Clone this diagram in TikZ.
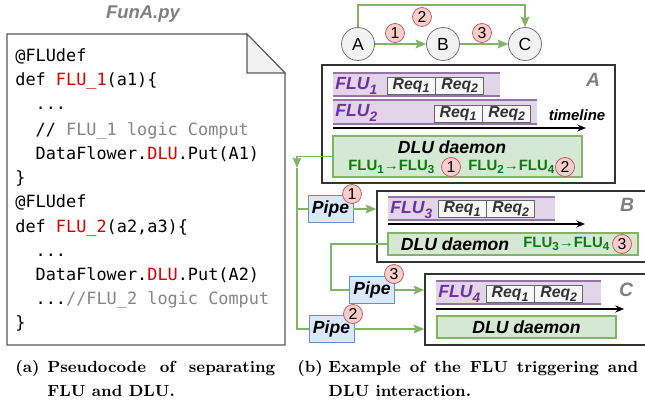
\documentclass[tikz,border=0pt]{standalone}
\usepackage{fontspec}
\newfontfamily\arialfont{Liberation Sans}
\newfontfamily\codefont{DejaVu Sans Mono}
\usetikzlibrary{shapes,arrows.meta,positioning,calc}

\definecolor{edgegreen}{HTML}{82B366}
\definecolor{dlufill}{HTML}{D5E8D4}
\definecolor{flufill}{HTML}{E1D5E7}
\definecolor{fluline}{HTML}{9673A6}
\definecolor{flupurple}{HTML}{7030A0}
\definecolor{pipefill}{HTML}{DAE8FC}
\definecolor{pipeline}{HTML}{6C8EBF}
\definecolor{numfill}{HTML}{F8CECC}
\definecolor{numline}{HTML}{B85450}
\definecolor{codered}{HTML}{D00000}
\definecolor{codegray}{HTML}{858585}
\definecolor{flowgreen}{HTML}{0E7A0E}
\definecolor{docgray}{HTML}{595959}
\definecolor{foldgray}{HTML}{F2F2F2}

\newcommand{\dn}[1]{\raisebox{-0.45ex}{\scalebox{0.78}{#1}}}
\newcommand{\hlred}[1]{{\color{codered}#1}}
\newcommand{\cmt}[1]{{\color{codegray}#1}}

\begin{document}
\begin{tikzpicture}[
    x=0.02cm, y=-0.02cm,
    codeline/.style={anchor=base west, inner sep=0, font=\codefont\fontsize{9.6}{11}\selectfont},
    captext/.style={anchor=base west, inner sep=0, font=\bfseries\fontsize{9.2}{11}\selectfont},
    station/.style={circle, draw=black!60, fill=black!5, minimum size=0.66cm, inner sep=0, font=\arialfont\fontsize{10}{11}\selectfont},
    num/.style={circle, draw=numline, fill=numfill, minimum size=0.38cm, inner sep=0, font=\arialfont\fontsize{9}{10}\selectfont},
    unitbox/.style={rectangle, draw=black!80, line width=0.9pt, fill=white},
    boxlabel/.style={text=black!50, font=\arialfont\bfseries\itshape\fontsize{11}{12}\selectfont},
    flubar/.style={rectangle, fill=flufill, minimum height=0.46cm, inner sep=0},
    fluedge/.style={draw=fluline, line width=1.3pt},
    flutext/.style={anchor=west, inner sep=0, text=flupurple, font=\arialfont\bfseries\itshape\fontsize{10}{11}\selectfont},
    req/.style={rectangle, draw=black!60, fill=black!3, minimum width=0.96cm, minimum height=0.34cm, inner sep=0, text=black!80, font=\arialfont\bfseries\itshape\fontsize{9}{10}\selectfont},
    tltext/.style={font=\arialfont\bfseries\itshape\fontsize{8.5}{10}\selectfont},
    tline/.style={-{Stealth[length=5pt,width=4pt]}, line width=0.7pt},
    dlubox/.style={rectangle, draw=edgegreen, fill=dlufill, inner sep=0, line width=0.7pt},
    dlutext/.style={inner sep=0, font=\arialfont\bfseries\itshape\fontsize{10}{11}\selectfont},
    flowtext/.style={anchor=west, inner sep=0, text=flowgreen, font=\arialfont\bfseries\fontsize{8.5}{10}\selectfont},
    pipe/.style={rectangle, draw=pipeline, fill=pipefill, minimum width=0.9cm, minimum height=0.55cm, inner sep=0, font=\arialfont\bfseries\itshape\fontsize{10}{11}\selectfont},
    wire/.style={draw=edgegreen, line width=1pt},
    link/.style={wire, -{Stealth[length=6pt,width=5pt,inset=1pt]}}
]
\clip (0,0) rectangle (645,402);

% (a) pseudocode file
\node[text=black!50, font=\arialfont\bfseries\itshape\fontsize{10.5}{12}\selectfont] (fname) at (143,14) {FunA.py};
\draw[docgray, fill=white, line width=0.6pt] (7,34) -- (247,34) -- (285,73) -- (285,345) -- (7,345) -- cycle;
\draw[docgray, fill=foldgray, line width=0.6pt] (247,34) -- (247,73) -- (285,73) -- cycle;

\node[codeline] (code1) at (15,62) {@FLUdef};
\node[codeline] (code2) at (15,86) {def \hlred{FLU\_1}(a1)\{};
\node[codeline] (code3) at (15,110) {\hphantom{xx}...};
\node[codeline] (code4) at (15,135) {\hphantom{xx}// \cmt{FLU\_1 logic Comput}};
\node[codeline] (code5) at (15,159) {\hphantom{xx}DataFlower.\hlred{DLU}.Put(A1)};
\node[codeline] (code6) at (15,183) {\}};
\node[codeline] (code7) at (15,207) {@FLUdef};
\node[codeline] (code8) at (15,232) {def \hlred{FLU\_2}(a2,a3)\{};
\node[codeline] (code9) at (15,256) {\hphantom{xx}...};
\node[codeline] (code10) at (15,280) {\hphantom{xx}DataFlower.\hlred{DLU}.Put(A2)};
\node[codeline] (code11) at (15,304) {\hphantom{xx}...\cmt{//FLU\_2 logic Comput}};
\node[codeline] (code12) at (15,328) {\}};

\node[captext] (capa) at (15,372) {(a)};
\node[captext] (capa1) at (47,372) {\makebox[4.56cm][s]{Pseudocode of separating}};
\node[captext] (capa2) at (47,396) {FLU and DLU.};

% (b) top graph
\node[station] (A) at (358,44) {A};
\node[station] (B) at (443,44) {B};
\node[station] (C) at (525,44) {C};
\coordinate (over) at (440,5);
\draw[link] (A) -- (B);
\draw[link] (B) -- (C);
\draw[link] (A.north) |- (over) -| (C.north);
\node[num] (t1) at (395,33) {1};
\node[num] (t2) at (422,17) {2};
\node[num] (t3) at (482,33) {3};

% unit A
\node[unitbox, minimum width=5.86cm, minimum height=2.36cm] (boxA) at (468.5,124) {};
\node[boxlabel] (labA) at (593,80) {A};
\node[flubar, minimum width=3.34cm] (flu1) at (416.5,84.5) {};
\node[flubar, minimum width=4.08cm] (flu2) at (435,112) {};
\draw[fluedge] (flu1.north west) -- (flu1.north east) (flu1.south west) -- (flu1.south east);
\draw[fluedge] (flu2.north west) -- (flu2.north east) (flu2.south west) -- (flu2.south east);
\node[flutext] (flu1t) at (335,86) {FLU\dn{1}};
\node[flutext] (flu2t) at (335,113) {FLU\dn{2}};
\node[req] (r11) at (411,85.5) {Req\dn{1}};
\node[req, right=0pt of r11] (r12) {Req\dn{2}};
\node[req] (r21) at (458,113.5) {Req\dn{1}};
\node[req, right=0pt of r21] (r22) {Req\dn{2}};
\node[tltext] (tlt) at (577,115) {timeline};
\coordinate (tlA) at (333,128);
\coordinate (tlAend) at (586,128);
\draw[tline] (tlA) -- (tlAend);
\node[dlubox, minimum width=4.98cm, minimum height=0.82cm] (dluA) at (457.5,156.5) {};
\node[dlutext] (dluAt) at (452,147) {DLU daemon};
\node[flowtext] (fA1) at (348,167) {FLU\dn{1}→FLU\dn{3}};
\node[num] (a1) at (451,167) {1};
\node[flowtext] (fA2) at (468,167) {FLU\dn{2}→FLU\dn{4}};
\node[num] (a2) at (565,167) {2};

% unit B
\node[unitbox, minimum width=5.66cm, minimum height=1.42cm] (boxB) at (518.5,226.5) {};
\node[boxlabel] (labB) at (627,205) {B};
\node[flubar, minimum width=3.34cm] (flu3) at (471.5,208.5) {};
\draw[fluedge] (flu3.north west) -- (flu3.north east) (flu3.south west) -- (flu3.south east);
\node[flutext] (flu3t) at (390,210) {FLU\dn{3}};
\node[req] (r31) at (462,209) {Req\dn{1}};
\node[req, right=0pt of r31] (r32) {Req\dn{2}};
\coordinate (tlB) at (388,224);
\coordinate (tlBend) at (585,224);
\draw[tline] (tlB) -- (tlBend);
\node[dlubox, minimum width=5.0cm, minimum height=0.44cm] (dluB) at (513,244) {};
\node[dlutext] (dluBt) at (455,244) {DLU daemon};
\node[flowtext] (fB) at (523,244) {FLU\dn{3}→FLU\dn{4}};
\node[num] (b3) at (622,244) {3};

% unit C
\node[unitbox, minimum width=4.7cm, minimum height=1.42cm] (boxC) at (542.5,309.5) {};
\node[boxlabel] (labC) at (626,290) {C};
\node[flubar, minimum width=3.3cm] (flu4) at (518.5,292.5) {};
\draw[fluedge] (flu4.north west) -- (flu4.north east) (flu4.south west) -- (flu4.south east);
\node[flutext] (flu4t) at (438,294) {FLU\dn{4}};
\node[req] (r41) at (510,294) {Req\dn{1}};
\node[req, right=0pt of r41] (r42) {Req\dn{2}};
\coordinate (tlC) at (436,309);
\coordinate (tlCend) at (624,309);
\draw[tline] (tlC) -- (tlCend);
\node[dlubox, minimum width=3.58cm, minimum height=0.44cm] (dluC) at (526.5,327) {};
\node[dlutext] (dluCt) at (526.5,327) {DLU daemon};

% pipes
\node[pipe] (pipe1) at (330.5,209) {Pipe};
\node[pipe] (pipe3) at (372,290) {Pipe};
\node[pipe] (pipe2) at (331.5,329) {Pipe};

\coordinate (split) at (297,168);
\coordinate (bendB) at (331,265);
\draw[link] (dluA.west) -| (split);
\draw[wire] (split) |- (pipe1.west);
\draw[wire] (split) |- (pipe2.west);
\draw[link] (pipe1.east) -- (pipe1.east -| boxB.west);
\draw[wire] (dluB.west) -| (bendB) |- (pipe3.west);
\draw[link] (pipe3.east) -- (pipe3.east -| boxC.west);
\draw[link] (pipe2.east) -- (pipe2.east -| boxC.west);

\node[num] (p1) at (352,194) {1};
\node[num] (p3) at (394,274) {3};
\node[num] (p2) at (353,314) {2};

\node[captext] (capb) at (297,372) {(b)};
\node[captext] (capb1) at (328,372) {\makebox[6.2cm][s]{Example of the FLU triggering and}};
\node[captext] (capb2) at (328,396) {DLU interaction.};

\end{tikzpicture}
\end{document}
